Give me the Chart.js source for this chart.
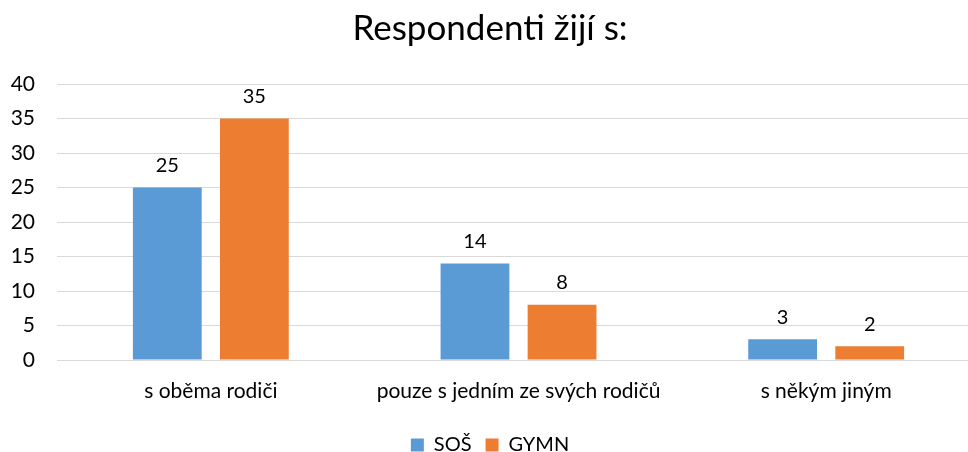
<!DOCTYPE html>
<html>
<head>
<meta charset="utf-8">
<script src="https://cdn.jsdelivr.net/npm/chart.js@4/dist/chart.umd.min.js"></script>
<style>
  html, body { margin: 0; padding: 0; overflow: hidden; background: #fff; }
  #wrap { width: 968px; height: 452px; overflow: hidden; }
  #box { width: 1005px; height: 452px; }
</style>
</head>
<body>
<div id="wrap"><div id="box"><canvas id="chart"></canvas></div></div>
<script>
const categories = ["s oběma rodiči", "pouze s jedním ze svých rodičů", "s někým jiným"];
const sosValues = [25, 14, 3];
const gymnValues = [35, 8, 2];
const yTicks = [0, 5, 10, 15, 20, 25, 30, 35, 40];

const FONT = "Lato, 'Open Sans', sans-serif";

const valueLabels = {
  id: "valueLabels",
  afterDatasetsDraw(chart) {
    const ctx = chart.ctx;
    ctx.save();
    ctx.font = "20px " + FONT;
    ctx.fillStyle = "#000";
    ctx.textAlign = "center";
    ctx.textBaseline = "bottom";
    chart.data.datasets.forEach((ds, i) => {
      chart.getDatasetMeta(i).data.forEach((bar, j) => {
        ctx.fillText(ds.data[j], bar.x, bar.y - 12);
      });
    });
    ctx.restore();
  },
};

new Chart(document.getElementById("chart"), {
  type: "bar",
  data: {
    labels: categories,
    datasets: [
      { label: "SOŠ", data: sosValues, backgroundColor: "#5b9bd5" },
      { label: "GYMN", data: gymnValues, backgroundColor: "#ed7d31" },
    ],
  },
  options: {
    responsive: true,
    maintainAspectRatio: false,
    animation: false,
    datasets: { bar: { categoryPercentage: 0.566, barPercentage: 0.79 } },
    layout: { padding: { left: 0, right: 25, top: 8, bottom: -13 } },
    plugins: {
      title: {
        display: true,
        text: "Respondenti žijí s:",
        color: "#000",
        font: { family: FONT, size: 35, weight: "normal" },
        padding: { top: 0, bottom: 34 },
      },
      legend: {
        position: "bottom",
        labels: {
          color: "#000",
          font: { family: FONT, size: 20 },
          boxWidth: 13,
          boxHeight: 13,
          padding: 14,
        },
      },
      tooltip: { enabled: false },
    },
    scales: {
      x: {
        grid: { display: false },
        border: { color: "#d9d9d9" },
        ticks: { color: "#000", font: { family: FONT, size: 21 }, padding: 11 },
        afterFit: (s) => { s.height = 61; },
      },
      y: {
        min: 0,
        max: 40,
        afterBuildTicks: (axis) => { axis.ticks = yTicks.map((v) => ({ value: v })); },
        grid: { color: "#d9d9d9", lineWidth: 1, drawTicks: false },
        border: { display: false },
        ticks: { color: "#000", font: { family: FONT, size: 21 }, padding: 22 },
        afterFit: (s) => { s.width = 57; },
      },
    },
  },
  plugins: [valueLabels],
});
</script>
</body>
</html>
